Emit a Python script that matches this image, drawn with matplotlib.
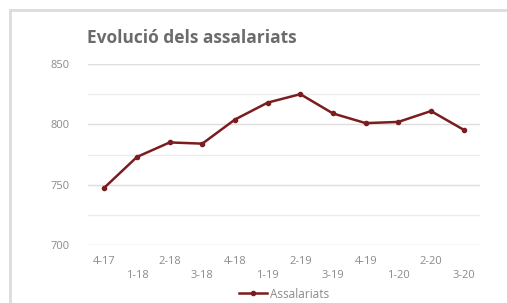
import matplotlib.pyplot as plt
from matplotlib.patches import Rectangle
from matplotlib.ticker import MultipleLocator

# Dades
trimestres = ['4-17', '1-18', '2-18', '3-18', '4-18', '1-19', '2-19',
              '3-19', '4-19', '1-20', '2-20', '3-20']
assalariats = [747.5, 773, 785, 784, 804, 818, 825, 809, 801, 802, 811, 795.5]

plt.rcParams['font.family'] = ['Open Sans', 'DejaVu Sans']

LINE_COLOR = '#7b1c1f'
TEXT_COLOR = '#8a8a8a'

fig = plt.figure(figsize=(5.07, 3.03), dpi=100)
fig.patch.set_facecolor('white')

# marc de la targeta
fig.patches.append(Rectangle((10 / 507, -0.1), 1.2, 1 - 10 / 303 + 0.1,
                             transform=fig.transFigure, fill=False,
                             edgecolor='#dcdcdc', linewidth=2.0))

ax = fig.add_axes([88 / 507, 1 - 245 / 303, 392 / 507, 181 / 303])
x = list(range(len(trimestres)))
ax.plot(x, assalariats, color=LINE_COLOR, linewidth=1.8, marker='o',
        markersize=3, label='Assalariats', zorder=3)

ax.set_xlim(-0.5, len(trimestres) - 0.5)
ax.set_ylim(700, 850)
ax.yaxis.set_major_locator(MultipleLocator(50))
ax.yaxis.set_minor_locator(MultipleLocator(25))
ax.grid(True, which='major', axis='y', color='#dedede', linewidth=1.0)
ax.grid(True, which='minor', axis='y', color='#ececec', linewidth=1.0)
ax.set_axisbelow(True)
for s in ax.spines.values():
    s.set_visible(False)

ax.tick_params(axis='y', which='both', length=0, pad=13,
               labelsize=8, labelcolor=TEXT_COLOR)
ax.set_xticks(x)
labels = [t if i % 2 == 0 else '\n' + t for i, t in enumerate(trimestres)]
ax.set_xticklabels(labels, linespacing=1.3)
ax.tick_params(axis='x', length=0, pad=8, labelsize=8, labelcolor=TEXT_COLOR)

fig.text(87 / 507, 1 - 38 / 303, 'Evolució dels assalariats', fontsize=12.5,
         fontweight='bold', color='#6b6b6b', va='center', ha='left')

fig.legend(loc='center', bbox_to_anchor=(284 / 507, 1 - 294 / 303),
           frameon=False, fontsize=8.5, labelcolor=TEXT_COLOR,
           handlelength=2.4, handletextpad=0.3, borderaxespad=0)

fig.savefig('out.png', dpi=100)
